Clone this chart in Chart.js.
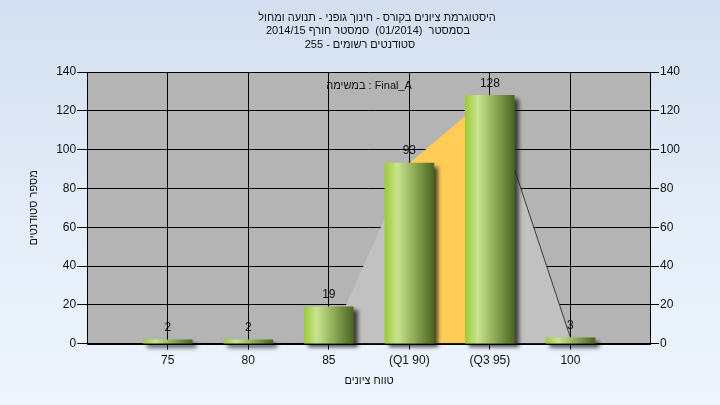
<!DOCTYPE html>
<html><head><meta charset="utf-8">
<script src="https://cdn.jsdelivr.net/npm/chart.js@4"></script>
<style>
html,body{margin:0;padding:0;}
body{width:720px;height:405px;overflow:hidden;background:linear-gradient(180deg,#d3dff0 0%,#e3ecf8 50%,#eef5fd 100%);}
#wrap{width:720px;height:405px;position:relative;}
canvas{display:block;}
</style>
</head><body><div id="wrap"><canvas id="c" width="720" height="405"></canvas></div>
<script>
// ---- data ----
const titleLines = ['היסטוגרמת ציונים בקורס - חינוך גופני - תנועה ומחול', 'בסמסטר  (01/2014)  סמסטר חורף 2014/15', 'סטודנטים רשומים - 255'];
const assignmentLabel = 'במשימה : Final_A';
const xAxisTitle = 'טווח ציונים';
const yAxisTitle = 'מספר סטודנטים';
const grades = [75, 80, 85, 90, 95, 100];
const gradeLabels = ['75', '80', '85', '(Q1 90)', '(Q3 95)', '100'];
const students = [2, 2, 19, 93, 128, 3];
const lowCurveX = [85, 90];
const lowCurveY = [0, 93];
const midCurveX = [90, 95];
const midCurveY = [93, 128];
const highCurveX = [95, 100];
const highCurveY = [128, 3];
const yMin = 0, yMax = 140, yStep = 20;
const xMin = 70, xMax = 105;

const FONT = "'Liberation Sans', Arial, sans-serif";
const TXT = '#111';
const pts = (xs, ys) => xs.map((x, i) => ({x: x, y: ys[i]}));

const bgPlugin = {
  id: 'plotBg',
  beforeDraw(chart) {
    const {ctx, chartArea: a} = chart;
    ctx.save();
    ctx.fillStyle = '#b4b4b4';
    ctx.fillRect(a.left, a.top, a.right - a.left, a.bottom - a.top);
    ctx.restore();
  }
};

const shadowPlugin = {
  id: 'barShadow',
  beforeDatasetDraw(chart, args) {
    if (args.meta.type !== 'bar') return;
    const ctx = chart.ctx;
    ctx.save();
    ctx.shadowColor = 'rgba(30,30,30,0.8)';
    ctx.shadowBlur = 4;
    ctx.shadowOffsetX = 4;
    ctx.shadowOffsetY = 4;
  },
  afterDatasetDraw(chart, args) {
    if (args.meta.type !== 'bar') return;
    chart.ctx.restore();
  }
};

const textPlugin = {
  id: 'texts',
  afterDatasetsDraw(chart) {
    const ctx = chart.ctx;
    const a = chart.chartArea;
    ctx.save();
    ctx.strokeStyle = '#000';
    ctx.lineWidth = 1;
    ctx.beginPath();
    ctx.moveTo(a.left, Math.round(a.bottom) + 0.5);
    ctx.lineTo(a.right, Math.round(a.bottom) + 0.5);
    ctx.stroke();
    ctx.fillStyle = TXT;
    ctx.textAlign = 'center';
    ctx.textBaseline = 'middle';
    ctx.font = '12px ' + FONT;
    const meta = chart.getDatasetMeta(0);
    meta.data.forEach((el, i) => {
      ctx.fillText(String(students[i]), el.x, el.y - 12);
    });
    const mid = (a.left + a.right) / 2;
    ctx.font = '11px ' + FONT;
    ctx.fillText(assignmentLabel, mid, a.top + 14);
    ctx.fillText(xAxisTitle, mid, a.bottom + 37);
    const offs = [17, 8, 0];
    titleLines.forEach((t, i) => ctx.fillText(t, 360 + offs[i], 17.5 + i * 13.5));
    ctx.restore();
  }
};

const barGradient = (c) => {
  const chart = c.chart;
  const xs = chart.scales && chart.scales.x;
  if (!xs || !c.raw) return '#8fb04a';
  const px = xs.getPixelForValue(c.raw.x);
  if (!isFinite(px)) return '#8fb04a';
  const w = 49;
  const g = chart.ctx.createLinearGradient(px - w / 2, 0, px + w / 2, 0);
  g.addColorStop(0, '#9ccb3b');
  g.addColorStop(0.25, '#c9e48e');
  g.addColorStop(0.55, '#96b45f');
  g.addColorStop(1, '#4a6521');
  return g;
};

Chart.defaults.font.family = FONT;
Chart.defaults.font.size = 12;
Chart.defaults.color = TXT;

new Chart(document.getElementById('c'), {
  type: 'bar',
  data: {
    datasets: [
      {
        type: 'bar', data: pts(grades, students), order: 0,
        backgroundColor: barGradient, borderWidth: 0, barThickness: 49, clip: false
      },
      {
        type: 'line', data: pts(lowCurveX, lowCurveY), order: 1,
        fill: 'origin', backgroundColor: '#c1c1c1', borderWidth: 0, pointRadius: 0, tension: 0
      },
      {
        type: 'line', data: pts(midCurveX, midCurveY), order: 1,
        fill: 'origin', backgroundColor: '#ffcc55', borderWidth: 0, pointRadius: 0, tension: 0
      },
      {
        type: 'line', data: pts(highCurveX, highCurveY), order: 1,
        fill: 'origin', backgroundColor: '#c1c1c1', borderColor: '#3a3a3a', borderWidth: 1, pointRadius: 0, tension: 0
      }
    ]
  },
  options: {
    responsive: false,
    animation: false,
    devicePixelRatio: 1,
    layout: {padding: {left: 20, right: 39, top: 72, bottom: 33}},
    plugins: {
      legend: {display: false},
      tooltip: {enabled: false},
      title: {display: false}
    },
    scales: {
      x: {
        type: 'linear', min: xMin, max: xMax, offset: false,
        afterBuildTicks: (s) => { s.ticks = grades.map(v => ({value: v})); },
        ticks: {
          autoSkip: false, maxRotation: 0, padding: 4,
          callback: (v) => { const i = grades.indexOf(v); return i >= 0 ? gradeLabels[i] : ''; }
        },
        grid: {color: '#000', lineWidth: 1, tickLength: 6, drawOnChartArea: true, offset: false},
        border: {display: true, color: '#000', width: 1}
      },
      y: {
        position: 'left', min: yMin, max: yMax,
        ticks: {stepSize: yStep, padding: 1},
        grid: {color: '#000', lineWidth: 1, tickLength: 10, drawOnChartArea: true},
        border: {display: true, color: '#000', width: 1},
        title: {display: true, text: yAxisTitle, color: TXT, font: {size: 11}, padding: {top: 7, bottom: 15}}
      },
      y2: {
        position: 'right', min: yMin, max: yMax,
        ticks: {stepSize: yStep, padding: 1},
        grid: {color: '#000', lineWidth: 1, tickLength: 8, drawOnChartArea: false},
        border: {display: true, color: '#000', width: 1}
      }
    }
  },
  plugins: [bgPlugin, shadowPlugin, textPlugin]
});
</script>
</body></html>
